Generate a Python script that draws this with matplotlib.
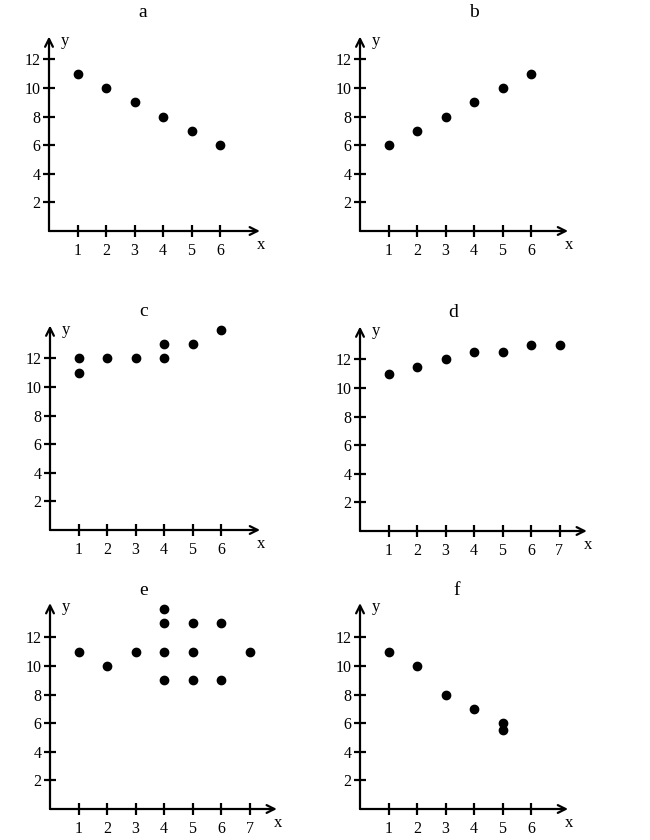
import matplotlib.pyplot as plt

plt.rcParams['font.family'] = ['Liberation Serif', 'DejaVu Serif']

# ---------------------------------------------------------------------------
# dados de cada painel

a_x = [1, 2, 3, 4, 5, 6]
a_y = [11, 10, 9, 8, 7, 6]

b_x = [1, 2, 3, 4, 5, 6]
b_y = [6, 7, 8, 9, 10, 11]

c_x = [1, 1, 2, 3, 4, 4, 5, 6]
c_y = [12, 11, 12, 12, 13, 12, 13, 14]

d_x = [1, 2, 3, 4, 5, 6, 7]
d_y = [11, 11.5, 12, 12.5, 12.5, 13, 13]

e_x = [1, 2, 3, 4, 4, 4, 4, 5, 5, 5, 6, 6, 7]
e_y = [11, 10, 11, 14, 13, 11, 9, 13, 11, 9, 13, 9, 11]

f_x = [1, 2, 3, 4, 5, 5]
f_y = [11, 10, 8, 7, 6, 5.5]

y_ticks = [2, 4, 6, 8, 10, 12]

# titulo, dados, ticks de x, origem (px), fim das setas (x, y), posicao x do titulo
paineis = [
    ('a', a_x, a_y, [1, 2, 3, 4, 5, 6], (49, 231), (7.4, 13.6), 3.3),
    ('b', b_x, b_y, [1, 2, 3, 4, 5, 6], (360, 231), (7.3, 13.6), 4.0),
    ('c', c_x, c_y, [1, 2, 3, 4, 5, 6], (50, 530), (7.37, 14.3), 3.3),
    ('d', d_x, d_y, [1, 2, 3, 4, 5, 6, 7], (360, 531), (7.96, 14.3), 3.26),
    ('e', e_x, e_y, [1, 2, 3, 4, 5, 6, 7], (50, 809), (7.96, 14.4), 3.3),
    ('f', f_x, f_y, [1, 2, 3, 4, 5, 6], (360, 809), (7.3, 14.4), 3.4),
]

W, H = 650, 840
ux, uy = 28.5, 14.3     # px por unidade
xmax, ymax = 8.6, 15.0

fig = plt.figure(figsize=(6.5, 8.4), dpi=100)

for titulo, xs, ys, xt, (ox, oy), (xe, ye), tx in paineis:
    ax = fig.add_axes([ox / W, (H - oy) / H, xmax * ux / W, ymax * uy / H])
    ax.set_xlim(0, xmax)
    ax.set_ylim(0, ymax)
    for s in ax.spines.values():
        s.set_visible(False)

    # eixos com setas
    ax.annotate('', xy=(xe, 0), xytext=(0, 0),
                arrowprops=dict(arrowstyle='->', lw=1.6, color='black',
                                shrinkA=0, shrinkB=0, mutation_scale=14),
                annotation_clip=False)
    ax.annotate('', xy=(0, ye), xytext=(0, 0),
                arrowprops=dict(arrowstyle='->', lw=1.6, color='black',
                                shrinkA=0, shrinkB=0, mutation_scale=14),
                annotation_clip=False)

    ax.set_xticks(xt)
    ax.set_yticks(y_ticks)
    ax.tick_params(axis='x', direction='inout', length=9, width=1.6,
                   labelsize=11.5, pad=4, colors='black')
    ax.tick_params(axis='y', direction='inout', length=8, width=1.6,
                   labelsize=11.5, pad=2, colors='black')

    ax.plot(xs, ys, 'o', color='black', markersize=6, clip_on=False)

    ax.text(0.42, ye - 0.3, 'y', fontsize=12, ha='left', va='center')
    ax.text(xe - 0.1, -1.0, 'x', fontsize=12, ha='left', va='center')
    ax.text(tx, 15.3, titulo, fontsize=14, ha='center', va='center')

fig.savefig('out.png', dpi=100)
